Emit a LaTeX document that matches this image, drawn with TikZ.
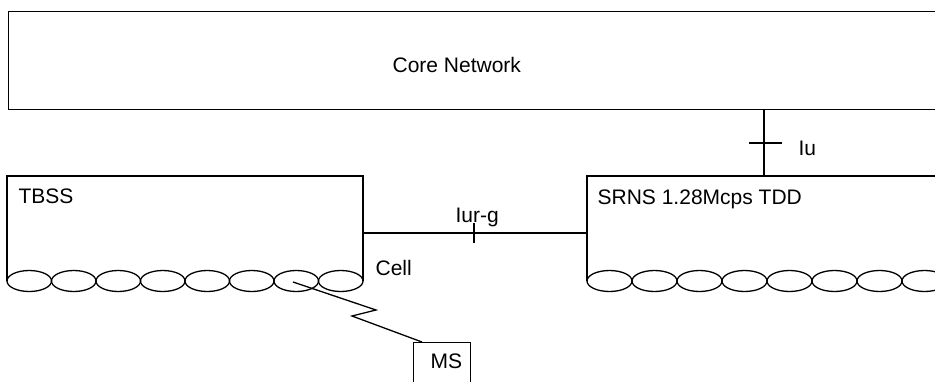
\documentclass[tikz,border=0pt]{standalone}
\usepackage{fontspec}
\setmainfont{Liberation Sans}
\begin{document}
\begin{tikzpicture}[x=1pt,y=-1pt,line width=1.3pt,
  lbl/.style={inner sep=0pt,anchor=base west,font=\fontsize{21}{24}\selectfont}]
\useasboundingbox (0,0) rectangle (935,381);
\clip (0,0) rectangle (935,381);
% Core network
\node[draw,anchor=north west,minimum width=960pt,minimum height=98pt,inner sep=0pt] (cn) at (8,11) {};
\node[lbl] (cntext) at (392,72) {Core Network};
% TBSS
\coordinate (tbl) at (7,281);
\coordinate (tbtl) at (7,176);
\coordinate (tbtr) at (363,176);
\coordinate (tbr) at (363,281);
\draw (tbl) -- (tbtl) -- (tbtr) -- (tbr);
\foreach \i in {0,...,7}{
  \draw ({7+22.25*(2*\i+1)},281) ellipse [x radius=22.25, y radius=10.5];
}
\node[lbl] (tbss) at (18,203) {TBSS};
% SRNS
\coordinate (srl) at (587,281);
\coordinate (srtl) at (587,176);
\coordinate (srtr) at (960,176);
\draw (srl) -- (srtl) -- (srtr);
\foreach \i in {0,...,7}{
  \draw ({587+22.5*(2*\i+1)},281) ellipse [x radius=22.5, y radius=10.5];
}
\node[lbl] (srns) at (597,204) {SRNS 1.28Mcps TDD};
% Iur-g
\coordinate (iurA) at (363,233);
\coordinate (iurB) at (587,233);
\draw (iurA) -- (iurB);
\coordinate (iurT1) at (474,223);
\coordinate (iurT2) at (474,243);
\draw (iurT1) -- (iurT2);
\node[lbl] (iurg) at (455,222) {Iur-g};
% Iu
\coordinate (iuA) at (764,109);
\coordinate (iuB) at (764,176);
\draw (iuA) -- (iuB);
\coordinate (iuT1) at (749,143);
\coordinate (iuT2) at (782,143);
\draw (iuT1) -- (iuT2);
\node[lbl] (iu) at (798,155) {Iu};
% Cell
\node[lbl] (cell) at (375,275) {Cell};
% MS
\node[draw,anchor=north west,minimum width=57pt,minimum height=60pt,inner sep=0pt] (ms) at (413,342) {};
\node[lbl] (mstext) at (430,368) {MS};
% radio link
\coordinate (cellpt) at (293,282);
\coordinate (z1) at (376,310);
\coordinate (z2) at (352,316);
\coordinate (mspt) at (422,342);
\draw (cellpt) -- (z1) -- (z2) -- (mspt);
\end{tikzpicture}
\end{document}
